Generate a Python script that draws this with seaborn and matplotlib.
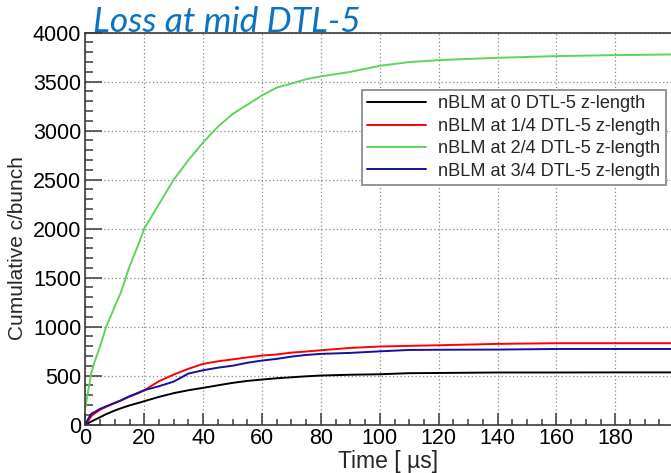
import numpy as np
import pandas as pd
import matplotlib
matplotlib.use("Agg")
import matplotlib.pyplot as plt
from matplotlib.ticker import MultipleLocator, FuncFormatter
import seaborn as sns

# Time axis (microseconds) and cumulative counts per bunch for each nBLM position
time_us = [0, 1, 2, 3, 5, 7, 10, 12, 15, 18, 20, 25, 30, 35, 40, 45, 50, 55,
           60, 65, 70, 75, 80, 90, 100, 110, 120, 140, 160, 180, 200]

blm_0 = [0, 15, 30, 45, 75, 105, 143, 165, 195, 220, 238, 282, 320, 350, 374,
         400, 425, 445, 459, 472, 482, 492, 500, 508, 513, 524, 526, 531, 531, 532, 532]
blm_1q = [0, 40, 85, 110, 150, 180, 220, 245, 285, 320, 350, 442, 510, 569, 619,
          645, 665, 685, 704, 715, 734, 745, 758, 782, 796, 803, 809, 823, 830, 830, 830]
blm_2q = [177, 350, 527, 630, 799, 993, 1207, 1344, 1615, 1837, 2000, 2250, 2500,
          2700, 2880, 3040, 3170, 3265, 3360, 3440, 3480, 3525, 3554, 3600, 3662,
          3700, 3720, 3744, 3761, 3771, 3778]
blm_3q = [0, 60, 109, 125, 160, 185, 221, 245, 289, 325, 350, 391, 438, 520, 554,
          580, 600, 630, 653, 670, 693, 710, 721, 731, 747, 761, 763, 765, 771, 771, 771]

series_labels = ["nBLM at 0 DTL-5 z-length", "nBLM at 1/4 DTL-5 z-length",
                 "nBLM at 2/4 DTL-5 z-length", "nBLM at 3/4 DTL-5 z-length"]
series_values = [blm_0, blm_1q, blm_2q, blm_3q]
series_colors = ["#000000", "#ff0000", "#5ed35e", "#12129c"]

df = pd.concat(
    [pd.DataFrame({"time": time_us, "counts": vals, "series": lab})
     for lab, vals in zip(series_labels, series_values)],
    ignore_index=True,
)

sns.set_theme(style="white")
plt.rcParams["font.family"] = ["Liberation Sans", "DejaVu Sans"]

fig = plt.figure(figsize=(6.71, 4.73), dpi=100)
ax = fig.add_axes([85.4 / 671, 48.5 / 473, 588.8 / 671, 391.8 / 473])

sns.lineplot(data=df, x="time", y="counts", hue="series",
             palette=dict(zip(series_labels, series_colors)),
             linewidth=1.4, ax=ax, legend=False)

ax.set_xlim(0, 200)
ax.set_ylim(0, 4000)
ax.xaxis.set_major_locator(MultipleLocator(20))
ax.xaxis.set_minor_locator(MultipleLocator(5))
ax.yaxis.set_major_locator(MultipleLocator(500))
ax.yaxis.set_minor_locator(MultipleLocator(100))
# the right end of the time axis runs off the canvas, so its label is left blank
ax.xaxis.set_major_formatter(FuncFormatter(lambda v, _: "" if v >= 200 else f"{v:.0f}"))

axis_col = "#3a3a3a"
ax.tick_params(axis="x", which="major", direction="in", length=8.6, width=1.1,
               color=axis_col, labelsize=15.5, pad=2.5, bottom=True)
ax.tick_params(axis="x", which="minor", direction="in", length=4.3, width=1.1,
               color=axis_col, bottom=True)
ax.tick_params(axis="y", which="major", direction="in", length=12, width=1.1,
               color=axis_col, labelsize=15.5, pad=3, left=True)
ax.tick_params(axis="y", which="minor", direction="in", length=5.8, width=1.1,
               color=axis_col, left=True)
for lab in ax.get_xticklabels() + ax.get_yticklabels():
    lab.set_color("black")

ax.grid(True, which="major", color="#8a8a8a", linestyle=(0, (1, 2)), linewidth=0.9)
for side in ["left", "bottom", "top"]:
    ax.spines[side].set_color(axis_col)
    ax.spines[side].set_linewidth(1.2)
ax.spines["right"].set_visible(False)

ax.set_xlabel("")
ax.set_ylabel("")
fig.text(388 / 671, 1 - 467.5 / 473, "Time [ \u00b5s]", ha="center", va="baseline",
         fontsize=16.5)
fig.text(18 / 671, 1 - 248 / 473, "Cumulative c/bunch", ha="center", va="center",
         rotation=90, fontsize=15)

fig.text(93 / 671, 1 - 32 / 473, "Loss at mid DTL-5", ha="left", va="baseline",
         fontsize=25.5, style="italic", color="#0b72c4", family=["Lato", "DejaVu Sans"])

handles = [plt.Line2D([], [], color=c, linewidth=1.4) for c in series_colors]
leg = ax.legend(handles, series_labels, loc="upper left",
                bbox_to_anchor=(362 / 671, 1 - 90 / 473),
                bbox_transform=fig.transFigure, fontsize=13.1,
                frameon=True, fancybox=False, framealpha=1, borderpad=0.3,
                handlelength=3.2, handletextpad=0.7, labelspacing=0.3,
                borderaxespad=0)
leg.get_frame().set_edgecolor("#8c8c8c")
leg.get_frame().set_linewidth(1.3)

fig.savefig("out.png", dpi=100)
